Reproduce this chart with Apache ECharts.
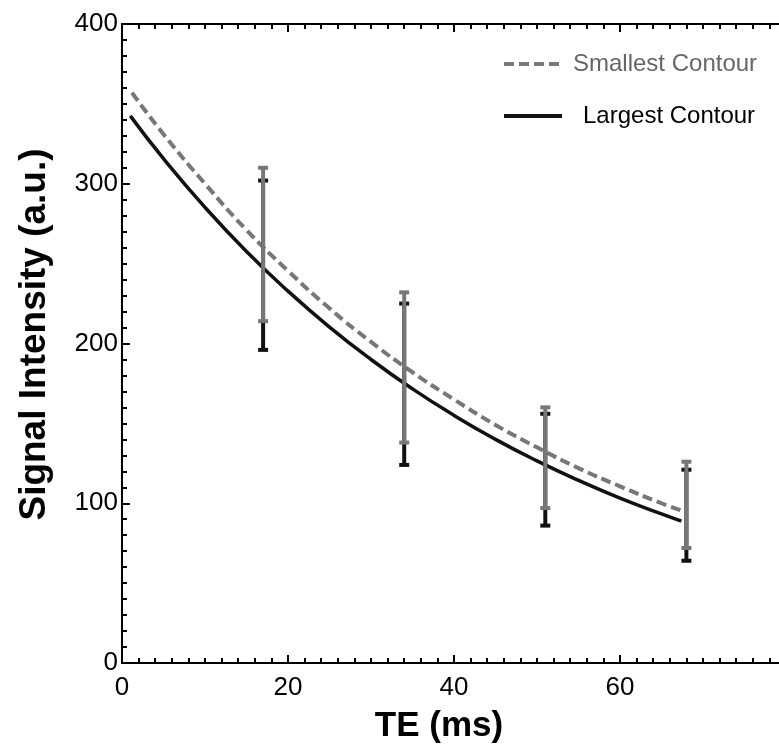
<!DOCTYPE html>
<html lang="en">
<head>
    <meta charset="UTF-8">
    <script src="https://cdn.jsdelivr.net/npm/echarts@6/dist/echarts.min.js"></script>
</head>
<body style="margin:0;background:#fff">
    <div id="main" style="height: 751px;width: 779px;"></div>
    <script>
        // fitted curves
        var teSmall = [1.2, 5, 10, 15, 20, 25, 30, 35, 40, 45, 50, 55, 60, 65, 67.4]
        var sigSmall = [357, 331, 300, 271, 245.5, 222, 201, 182, 165, 149, 135, 122, 110.6, 100, 95.5]
        var teLarge = [1, 5, 10, 15, 20, 25, 30, 35, 40, 45, 50, 55, 60, 65, 67.4]
        var sigLarge = [342.5, 315.7, 285.2, 257.6, 232.8, 210.3, 190, 171.6, 155, 140, 126.5, 114.3, 103.2, 93.3, 88.8]

        // error bars at the measured echo times
        var teBars = [17, 34, 51, 68]
        var smallHigh = [310, 232, 160, 126]
        var smallLow = [214, 138, 97, 72]
        var largeHigh = [302, 225, 156, 121]
        var largeLow = [196, 124, 86, 64]

        var GRAY = '#777777'
        var BLACK = '#111111'
        var DASH = [10, 5]

        function pairs(xs, ys) {
            return xs.map(function (x, i) { return [x, ys[i]] })
        }
        function bars(lo, hi) {
            return teBars.map(function (t, i) { return [t, lo[i], hi[i]] })
        }
        function errorBar(color) {
            return function (params, api) {
                var top = api.coord([api.value(0), api.value(2)])
                var bot = api.coord([api.value(0), api.value(1)])
                var w = 5
                var st = { stroke: color, lineWidth: 4 }
                return {
                    type: 'group',
                    children: [
                        { type: 'line', shape: { x1: top[0], y1: top[1], x2: bot[0], y2: bot[1] }, style: st },
                        { type: 'line', shape: { x1: top[0] - w, y1: top[1], x2: top[0] + w, y2: top[1] }, style: st },
                        { type: 'line', shape: { x1: bot[0] - w, y1: bot[1], x2: bot[0] + w, y2: bot[1] }, style: st }
                    ]
                }
            }
        }

        var axisCommon = {
            axisLine: { lineStyle: { color: '#000', width: 2 } },
            axisTick: { inside: true, length: 8, lineStyle: { color: '#000', width: 2 } },
            minorTick: { show: true, splitNumber: 10, length: 5, lineStyle: { color: '#000', width: 2 } },
            splitLine: { show: false }
        }

        var myCharts = echarts.init(document.getElementById('main'))
        var option = {
            animation: false,
            backgroundColor: '#fff',
            grid: { left: 122, top: 24, width: 664, height: 639, containLabel: false, outerBoundsMode: 'none' },
            legend: {
                orient: 'vertical',
                left: 497,
                top: 47,
                itemWidth: 58,
                itemHeight: 24,
                itemGap: 28,
                itemStyle: { opacity: 0 },
                data: [
                    { name: 'Smallest Contour', lineStyle: { width: 4, type: DASH, color: GRAY },
                      textStyle: { color: '#666', padding: [0, 0, 0, 6] } },
                    { name: 'Largest Contour', lineStyle: { width: 4, color: BLACK },
                      textStyle: { color: '#000', padding: [0, 0, 0, 16] } }
                ],
                textStyle: { fontFamily: 'Liberation Sans', fontSize: 24, lineHeight: 24 }
            },
            xAxis: [Object.assign({
                type: 'value',
                min: 0,
                max: 80,
                interval: 20,
                name: 'TE (ms)',
                nameLocation: 'middle',
                nameGap: 46,
                nameTextStyle: { fontFamily: 'Liberation Sans', fontSize: 35, fontWeight: 'bold', color: '#000', padding: [0, 30, 0, 0] },
                axisLabel: { fontFamily: 'Liberation Sans', fontSize: 26, color: '#000', margin: 12, showMaxLabel: false }
            }, axisCommon), Object.assign({
                type: 'value',
                position: 'top',
                min: 0,
                max: 80,
                interval: 20,
                axisLabel: { show: false }
            }, axisCommon)],
            yAxis: Object.assign({
                type: 'value',
                min: 0,
                max: 400,
                interval: 100,
                name: 'Signal Intensity (a.u.)',
                nameLocation: 'middle',
                nameGap: 69,
                nameTextStyle: { fontFamily: 'Liberation Sans', fontSize: 37, fontWeight: 'bold', color: '#000', padding: [0, 0, 0, 18] },
                axisLabel: { fontFamily: 'Liberation Sans', fontSize: 26, color: '#000', margin: 4 }
            }, axisCommon),
            series: [{
                name: 'largeBars',
                type: 'custom',
                renderItem: errorBar(BLACK),
                data: bars(largeLow, largeHigh),
                z: 3
            }, {
                name: 'smallBars',
                type: 'custom',
                renderItem: errorBar(GRAY),
                data: bars(smallLow, smallHigh),
                z: 4
            }, {
                name: 'Smallest Contour',
                type: 'line',
                smooth: true,
                symbol: 'none',
                data: pairs(teSmall, sigSmall),
                color: GRAY,
                lineStyle: { color: GRAY, width: 4, type: DASH },
                z: 2
            }, {
                name: 'Largest Contour',
                type: 'line',
                smooth: true,
                symbol: 'none',
                data: pairs(teLarge, sigLarge),
                color: BLACK,
                lineStyle: { color: BLACK, width: 3.5 },
                z: 2
            }]
        }
        myCharts.setOption(option)
    </script>
</body>
</html>
